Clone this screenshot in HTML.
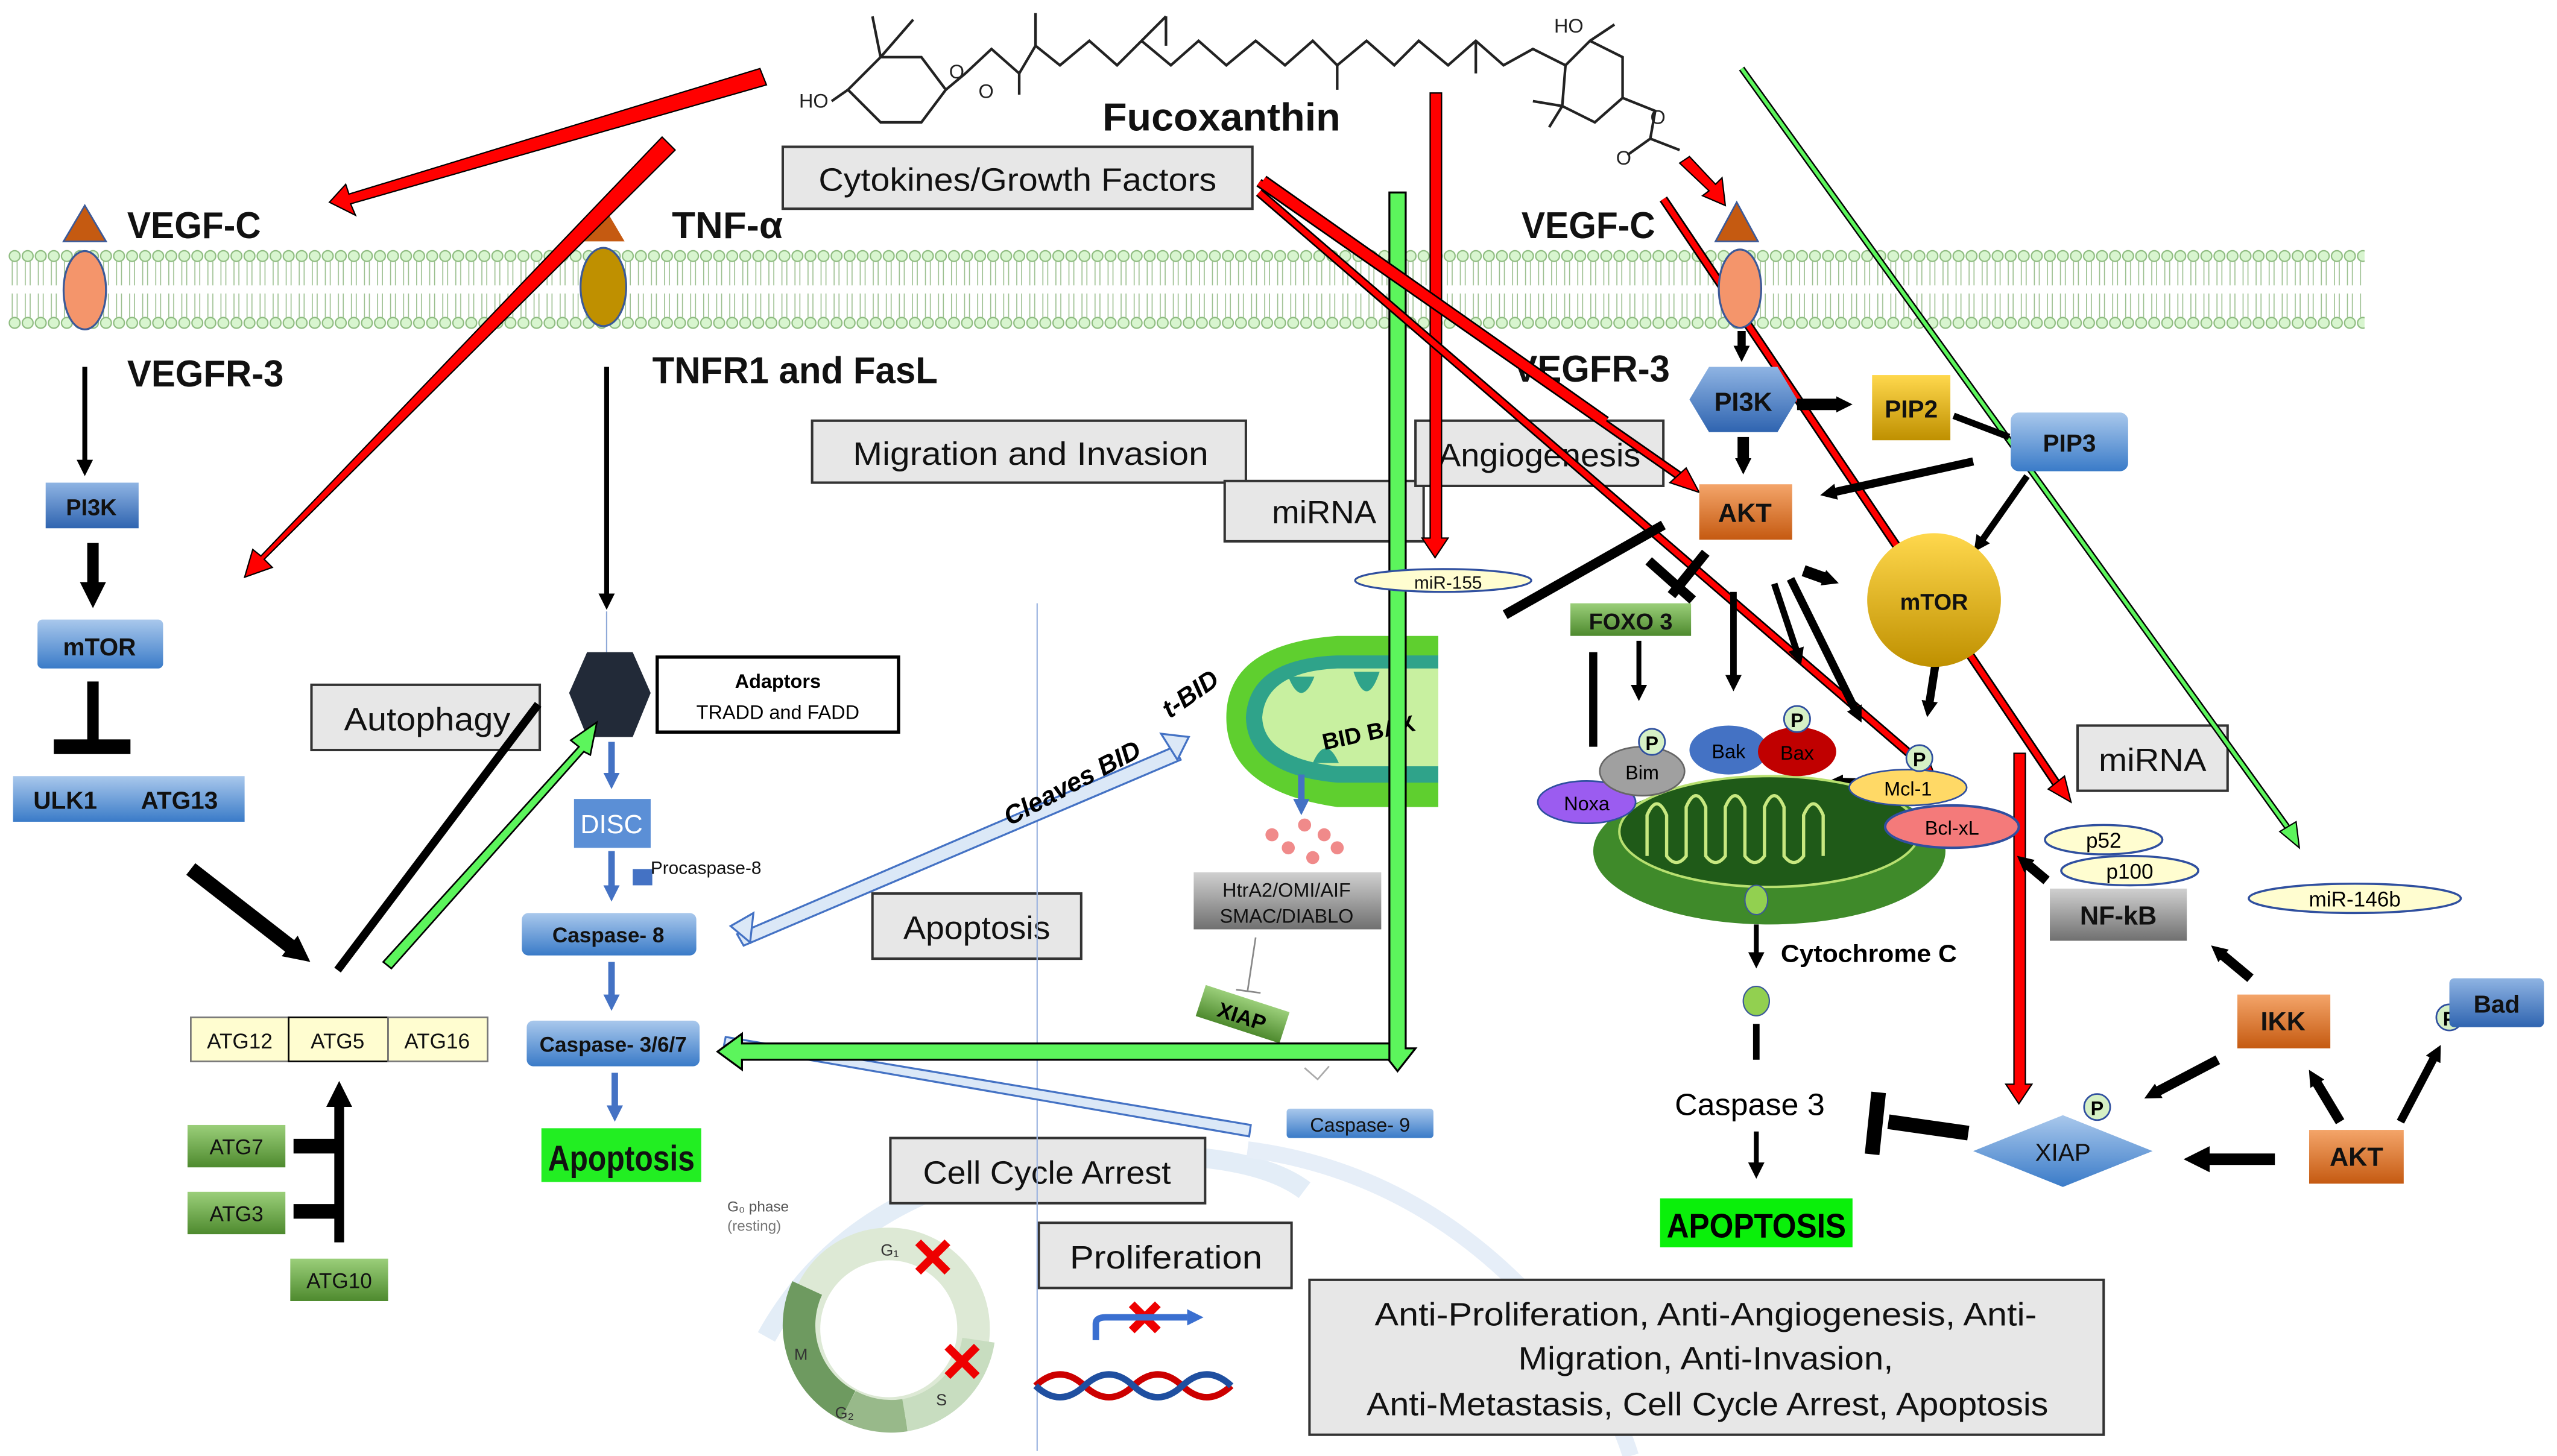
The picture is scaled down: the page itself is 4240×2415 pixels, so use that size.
<!DOCTYPE html>
<html><head><meta charset="utf-8"><style>
html,body{margin:0;padding:0;background:#fff}
svg{display:block}
text{font-family:"Liberation Sans Narrow","Liberation Sans",sans-serif}
</style></head><body>
<svg width="4240" height="2415" viewBox="0 0 1568 893" xmlns="http://www.w3.org/2000/svg">
<defs>
<pattern id="mem" x="5" y="153" width="8" height="50" patternUnits="userSpaceOnUse">
<circle cx="4" cy="4" r="3.3" fill="#d8f5cf" stroke="#8dbb7f" stroke-width="0.8"/>
<circle cx="4" cy="45" r="3.3" fill="#d8f5cf" stroke="#8dbb7f" stroke-width="0.8"/>
<path d="M2.5 7 V22 M5.5 7 V22 M2.5 27 V42 M5.5 27 V42" stroke="#9bbf8f" stroke-width="0.6"/>
</pattern>
<linearGradient id="gb" x1="0" y1="0" x2="0" y2="1"><stop offset="0" stop-color="#8fb4e3"/><stop offset="1" stop-color="#2f64b0"/></linearGradient>
<linearGradient id="gb2" x1="0" y1="0" x2="0" y2="1"><stop offset="0" stop-color="#a9c8ec"/><stop offset="1" stop-color="#3a7bc8"/></linearGradient>
<linearGradient id="gg" x1="0" y1="0" x2="0" y2="1"><stop offset="0" stop-color="#9bcf7a"/><stop offset="1" stop-color="#4e8a2e"/></linearGradient>
<linearGradient id="go" x1="0" y1="0" x2="0" y2="1"><stop offset="0" stop-color="#f4a56a"/><stop offset="1" stop-color="#c55a11"/></linearGradient>
<linearGradient id="gy" x1="0" y1="0" x2="0" y2="1"><stop offset="0" stop-color="#ffd84d"/><stop offset="1" stop-color="#bf9000"/></linearGradient>
<linearGradient id="ggr" x1="0" y1="0" x2="0" y2="1"><stop offset="0" stop-color="#d0d0d0"/><stop offset="1" stop-color="#707070"/></linearGradient>
<marker id="ab" markerWidth="10" markerHeight="10" refX="2" refY="5" orient="auto" markerUnits="userSpaceOnUse"><path d="M0,0 L10,5 L0,10 z" fill="#000"/></marker>
<marker id="abL" markerWidth="16" markerHeight="16" refX="3" refY="8" orient="auto" markerUnits="userSpaceOnUse"><path d="M0,0 L16,8 L0,16 z" fill="#000"/></marker>
<marker id="abl" markerWidth="10" markerHeight="10" refX="2" refY="5" orient="auto" markerUnits="userSpaceOnUse"><path d="M0,0 L10,5 L0,10 z" fill="#4472c4"/></marker>
</defs>

<!-- faint ER arcs -->
<path d="M470 820 Q520 730 640 712 Q760 700 800 730" fill="none" stroke="#e3edf7" stroke-width="12"/>
<path d="M765 705 Q880 720 960 820 Q990 860 1000 893" fill="none" stroke="#e6eef8" stroke-width="10"/>

<!-- membrane -->
<rect x="5" y="153" width="1445" height="50" fill="url(#mem)"/>

<!-- molecule -->
<g fill="none" stroke="#222" stroke-width="1.6">
<path d="M520 55 L540 35 L565 35 L580 55 L565 75 L540 75 L520 55"/>
<path d="M540 35 L535 10 M540 35 L560 12 M580 55 L592 45 L608 30 L625 45 L635 28 L650 40 L668 25 L685 40 L700 25 L715 10 M700 25 L718 40 L735 25 L752 40 L770 25 L788 40 L805 25 L820 40 L838 25 L855 40 L870 25 L888 40 L905 25 L922 40 L940 30 L960 40"/>
<path d="M635 28 L635 8 M715 10 L715 28 M820 40 L820 55 M905 25 L905 45 M625 45 L625 58"/>
<path d="M960 40 L975 25 L995 35 L995 60 L978 75 L958 65 L960 40 M975 25 L990 15 M958 65 L940 62 M958 65 L950 78 M995 60 L1015 68 L1012 85 L998 95 M1012 85 L1030 92"/>
<path d="M520 55 L510 62"/>
</g>
<text x="490" y="66" font-size="12" fill="#222">HO</text>
<text x="582" y="48" font-size="12" fill="#222">O</text>
<text x="600" y="60" font-size="12" fill="#222">O</text>
<text x="953" y="20" font-size="12" fill="#222">HO</text>
<text x="1012" y="76" font-size="12" fill="#222">O</text>
<text x="991" y="101" font-size="12" fill="#222">O</text>
<text x="676" y="80" font-size="24" font-weight="bold" fill="#111" textLength="146" lengthAdjust="spacingAndGlyphs">Fucoxanthin</text>

<!-- label boxes -->
<g stroke="#333" stroke-width="1.5" fill="#e7e7e7">
<rect x="480" y="90" width="288" height="38"/>
<rect x="498" y="258" width="266" height="38"/>
<rect x="751" y="295" width="122" height="37"/>
<rect x="868" y="258" width="152" height="40"/>
<rect x="191" y="420" width="140" height="40"/>
<rect x="535" y="548" width="128" height="40"/>
<rect x="546" y="698" width="193" height="40"/>
<rect x="637" y="750" width="155" height="40"/>
<rect x="1274" y="445" width="92" height="40"/>
<rect x="803" y="785" width="487" height="95"/>
</g>
<g font-size="20" fill="#111">
<text x="502" y="117" textLength="244" lengthAdjust="spacingAndGlyphs">Cytokines/Growth Factors</text>
<text x="523" y="285" textLength="218" lengthAdjust="spacingAndGlyphs">Migration and Invasion</text>
<text x="780" y="321" textLength="64" lengthAdjust="spacingAndGlyphs">miRNA</text>
<text x="882" y="286" textLength="124" lengthAdjust="spacingAndGlyphs">Angiogenesis</text>
<text x="211" y="448" textLength="102" lengthAdjust="spacingAndGlyphs">Autophagy</text>
<text x="554" y="576" textLength="90" lengthAdjust="spacingAndGlyphs">Apoptosis</text>
<text x="566" y="726" textLength="152" lengthAdjust="spacingAndGlyphs">Cell Cycle Arrest</text>
<text x="656" y="778" textLength="118" lengthAdjust="spacingAndGlyphs">Proliferation</text>
<text x="1287" y="473" textLength="66" lengthAdjust="spacingAndGlyphs">miRNA</text>
<text x="843" y="813" textLength="406" lengthAdjust="spacingAndGlyphs">Anti-Proliferation, Anti-Angiogenesis, Anti-</text>
<text x="931" y="840" textLength="230" lengthAdjust="spacingAndGlyphs">Migration, Anti-Invasion,</text>
<text x="838" y="868" textLength="418" lengthAdjust="spacingAndGlyphs">Anti-Metastasis, Cell Cycle Arrest, Apoptosis</text>
</g>

<!-- receptors left -->
<polygon points="52,126 39,148 65,148" fill="#c55a11" stroke="#3b5998" stroke-width="1"/>
<ellipse cx="52" cy="178" rx="13" ry="24" fill="#f4956b" stroke="#3b5998" stroke-width="1.2"/>
<polygon points="370,126 357,148 383,148" fill="#c55a11"/>
<ellipse cx="370" cy="176" rx="14" ry="24" fill="#bf9000" stroke="#3b5998" stroke-width="1.2"/>
<g font-size="23" font-weight="bold" fill="#111">
<text x="78" y="146" textLength="82" lengthAdjust="spacingAndGlyphs">VEGF-C</text>
<text x="412" y="146" textLength="68" lengthAdjust="spacingAndGlyphs">TNF-α</text>
<text x="78" y="237" textLength="96" lengthAdjust="spacingAndGlyphs">VEGFR-3</text>
<text x="400" y="235" textLength="175" lengthAdjust="spacingAndGlyphs">TNFR1 and FasL</text>
<text x="933" y="146" textLength="82" lengthAdjust="spacingAndGlyphs">VEGF-C</text>
<text x="928" y="234" textLength="96" lengthAdjust="spacingAndGlyphs">VEGFR-3</text>
</g>

<!-- autophagy pathway -->
<line x1="52" y1="225" x2="52" y2="284" stroke="#000" stroke-width="3" marker-end="url(#ab)"/>
<rect x="28" y="296" width="57" height="28" fill="url(#gb)"/>
<text x="56" y="316" font-size="14" text-anchor="middle" font-weight="bold" fill="#111">PI3K</text>
<line x1="57" y1="333" x2="57" y2="360" stroke="#000" stroke-width="7" marker-end="url(#abL)"/>
<rect x="23" y="380" width="77" height="30" rx="3" fill="url(#gb2)"/>
<text x="61" y="402" font-size="15" text-anchor="middle" font-weight="bold" fill="#111">mTOR</text>
<line x1="57" y1="418" x2="57" y2="456" stroke="#000" stroke-width="7"/>
<line x1="33" y1="458" x2="80" y2="458" stroke="#000" stroke-width="9"/>
<rect x="8" y="476" width="142" height="28" fill="url(#gb2)"/>
<text x="40" y="496" font-size="15" text-anchor="middle" font-weight="bold" fill="#111">ULK1</text>
<text x="110" y="496" font-size="15" text-anchor="middle" font-weight="bold" fill="#111">ATG13</text>
<line x1="117" y1="533" x2="180" y2="582" stroke="#000" stroke-width="9" marker-end="url(#abL)"/>
<line x1="207" y1="595" x2="330" y2="432" stroke="#000" stroke-width="5"/>
<g fill="#fffdd0" stroke="#777" stroke-width="1">
<rect x="117" y="624" width="60" height="27"/><rect x="177" y="624" width="61" height="27" stroke="#000"/><rect x="238" y="624" width="61" height="27"/>
</g>
<g font-size="13" text-anchor="middle" fill="#111"><text x="147" y="643">ATG12</text><text x="207" y="643">ATG5</text><text x="268" y="643">ATG16</text></g>
<line x1="208" y1="762" x2="208" y2="676" stroke="#000" stroke-width="6" marker-end="url(#abL)"/>
<path d="M180 703 H208 M180 743 H208" stroke="#000" stroke-width="9"/>
<rect x="115" y="690" width="60" height="26" fill="url(#gg)"/>
<rect x="115" y="731" width="60" height="26" fill="url(#gg)"/>
<rect x="178" y="772" width="60" height="26" fill="url(#gg)"/>
<g font-size="13" text-anchor="middle" fill="#111"><text x="145" y="708">ATG7</text><text x="145" y="749">ATG3</text><text x="208" y="790">ATG10</text></g>

<!-- extrinsic apoptosis -->
<line x1="372" y1="225" x2="372" y2="366" stroke="#000" stroke-width="3" marker-end="url(#ab)"/>
<line x1="372" y1="375" x2="372" y2="400" stroke="#8fa9d8" stroke-width="0.8"/>
<polygon points="360,400 388,400 399,425 388,452 360,452 349,425" fill="#222a38"/>
<rect x="403" y="403" width="148" height="46" fill="#fff" stroke="#000" stroke-width="2"/>
<text x="477" y="422" font-size="12" font-weight="bold" text-anchor="middle">Adaptors</text>
<text x="477" y="441" font-size="12" text-anchor="middle">TRADD and  FADD</text>
<g stroke="#4472c4" stroke-width="4" marker-end="url(#abl)">
<line x1="375" y1="455" x2="375" y2="476"/><line x1="375" y1="522" x2="375" y2="545"/><line x1="375" y1="590" x2="375" y2="612"/><line x1="377" y1="658" x2="377" y2="680"/>
</g>
<rect x="352" y="490" width="47" height="30" fill="#5b8fd6"/>
<text x="375" y="511" font-size="16" fill="#fff" text-anchor="middle">DISC</text>
<rect x="388" y="533" width="12" height="10" fill="#4472c4"/>
<text x="399" y="536" font-size="11" fill="#111">Procaspase-8</text>
<rect x="320" y="560" width="107" height="26" rx="4" fill="url(#gb2)"/>
<text x="373" y="578" font-size="13" text-anchor="middle" font-weight="bold" fill="#111">Caspase- 8</text>
<rect x="323" y="626" width="106" height="28" rx="4" fill="url(#gb2)"/>
<text x="376" y="645" font-size="13" text-anchor="middle" font-weight="bold" fill="#111">Caspase- 3/6/7</text>
<rect x="332" y="692" width="98" height="33" fill="#22ee22"/>
<text x="336" y="718" font-size="22" font-weight="bold" fill="#111" textLength="90" lengthAdjust="spacingAndGlyphs">Apoptosis</text>

<!-- thin vertical line -->
<line x1="636" y1="370" x2="636" y2="890" stroke="#9ab3df" stroke-width="0.8"/>

<!-- hollow arrows -->
<polygon points="452,573 720,458 724,466 456,580" fill="#dbe8f7" stroke="#4472c4" stroke-width="1.2"/>
<polygon points="712,450 729,452 722,466" fill="#dbe8f7" stroke="#4472c4" stroke-width="1.2"/>
<polygon points="448,568 462,560 460,578" fill="#dbe8f7" stroke="#4472c4" stroke-width="1.2"/>
<polygon points="445,636 767,690 766,697 444,641" fill="#dbe8f7" stroke="#4472c4" stroke-width="1.2"/>
<text x="660" y="485" font-size="16" font-weight="bold" transform="rotate(-28 660 485)" text-anchor="middle" font-style="italic">Cleaves BID</text>
<text x="733" y="430" font-size="16" font-weight="bold" transform="rotate(-35 733 430)" text-anchor="middle" font-style="italic">t-BID</text>

<!-- left mitochondrion -->
<path d="M752 440 Q752 395 820 390 L882 390 L882 495 L820 495 Q752 485 752 440 Z" fill="#5fcf2f"/>
<path d="M764 440 Q766 404 820 402 L882 402 L882 480 L820 480 Q765 475 764 440 Z" fill="#2fa38a"/>
<path d="M774 440 Q776 412 820 410 L882 410 L882 470 L820 470 Q775 465 774 440 Z" fill="#c8f0a0"/>
<g fill="#2fa38a"><path d="M790 415 q8 20 16 0 Z"/><path d="M830 412 q8 24 16 0 Z"/><path d="M805 468 q8 -18 16 0 Z"/></g>
<text x="812" y="460" font-size="14" font-weight="bold" transform="rotate(-12 812 460)">BID BAX</text>
<line x1="798" y1="475" x2="798" y2="492" stroke="#4472c4" stroke-width="4" marker-end="url(#abl)"/>
<g fill="#f08a8a"><circle cx="780" cy="512" r="4"/><circle cx="800" cy="506" r="4"/><circle cx="790" cy="520" r="4"/><circle cx="812" cy="512" r="4"/><circle cx="820" cy="520" r="4"/><circle cx="805" cy="526" r="4"/></g>
<rect x="732" y="535" width="115" height="35" fill="url(#ggr)"/>
<text x="789" y="550" font-size="12" text-anchor="middle" fill="#111">HtrA2/OMI/AIF</text>
<text x="789" y="566" font-size="12" text-anchor="middle" fill="#111">SMAC/DIABLO</text>
<line x1="770" y1="575" x2="765" y2="608" stroke="#888" stroke-width="1"/>
<line x1="758" y1="607" x2="773" y2="609" stroke="#888" stroke-width="1"/>
<g transform="rotate(18 762 622)"><rect x="735" y="612" width="54" height="20" fill="url(#gg)"/><text x="762" y="628" font-size="13" font-weight="bold" text-anchor="middle">XIAP</text></g>
<path d="M800 655 L808 662 L815 654" fill="none" stroke="#aaa" stroke-width="1"/>
<rect x="789" y="680" width="90" height="18" rx="2" fill="url(#gb2)"/>
<text x="834" y="694" font-size="12" text-anchor="middle" fill="#111">Caspase- 9</text>

<!-- big green arrow -->
<path d="M852 118 L862 118 L862 643 L868 643 L857 657 L846 643 L852 643 Z" fill="#5cf55c" stroke="#000" stroke-width="1.2"/>
<path d="M852 640 L852 650 L455 650 L455 656 L440 645 L455 634 L455 640 Z" fill="#5cf55c" stroke="#000" stroke-width="1.2"/>
<polygon points="235,590 355,458 350,454 366,443 362,463 358,461 240,594" fill="#5cf55c" stroke="#000" stroke-width="1"/>

<!-- red arrows -->
<g fill="#f00" stroke="#000" stroke-width="0.8">
<polygon points="466,42 470,52 215,125 218,132 202,124 212,113 214,119"/>
<polygon points="406,84 414,92 162,343 167,348 150,354 155,337 160,341"/>
<polygon points="877,57 884,57 884,330 888,330 880,342 872,330 877,330"/>
<polygon points="1235,462 1242,462 1242,665 1246,665 1238,677 1230,665 1235,665"/>
<polygon points="1030,100 1036,96 1052,113 1056,109 1058,126 1044,120 1048,117"/>
</g>
<g stroke="#000" stroke-width="5.5" fill="none"><line x1="772" y1="112" x2="1030" y2="292"/><line x1="772" y1="118" x2="1180" y2="470"/><line x1="1020" y1="122" x2="1262" y2="482"/><line x1="775" y1="110" x2="985" y2="258"/></g>
<g stroke="#f00" stroke-width="3.5" fill="none"><line x1="772" y1="112" x2="1030" y2="292"/><line x1="772" y1="118" x2="1180" y2="470"/><line x1="1020" y1="122" x2="1262" y2="482"/><line x1="775" y1="110" x2="985" y2="258"/></g>
<g fill="#f00" stroke="#000" stroke-width="0.8"><polygon points="1042,302 1024,296 1034,287"/><polygon points="1188,480 1172,472 1182,464"/><polygon points="1270,492 1256,484 1266,476"/></g>
<line x1="1068" y1="42" x2="1406" y2="512" stroke="#000" stroke-width="4"/>
<line x1="1068" y1="42" x2="1406" y2="512" stroke="#5cf55c" stroke-width="2.2"/>
<polygon points="1410,520 1398,510 1408,504" fill="#5cf55c" stroke="#000" stroke-width="0.8"/>

<!-- right receptor -->
<polygon points="1065,124 1052,148 1078,148" fill="#c55a11" stroke="#3b5998" stroke-width="1"/>
<ellipse cx="1067" cy="177" rx="13" ry="24" fill="#f4956b" stroke="#3b5998" stroke-width="1.2"/>

<!-- right pathway -->
<g stroke="#000" fill="none">
<line x1="1068" y1="203" x2="1068" y2="214" stroke-width="5" marker-end="url(#ab)"/>
<line x1="1102" y1="248" x2="1128" y2="248" stroke-width="7" marker-end="url(#ab)"/>
<line x1="1069" y1="268" x2="1069" y2="283" stroke-width="7" marker-end="url(#ab)"/>
<line x1="1198" y1="255" x2="1232" y2="268" stroke-width="4"/>
<line x1="1210" y1="283" x2="1124" y2="302" stroke-width="5" marker-end="url(#ab)"/>
<line x1="1243" y1="292" x2="1215" y2="332" stroke-width="4" marker-end="url(#ab)"/>
<line x1="1020" y1="322" x2="923" y2="377" stroke-width="6"/>
<line x1="1046" y1="339" x2="1025" y2="365" stroke-width="6"/>
<line x1="1011" y1="344" x2="1038" y2="368" stroke-width="6"/>
<line x1="1106" y1="350" x2="1120" y2="355" stroke-width="7" marker-end="url(#ab)"/>
<line x1="1063" y1="363" x2="1063" y2="416" stroke-width="4" marker-end="url(#ab)"/>
<line x1="1088" y1="358" x2="1102" y2="400" stroke-width="4" marker-end="url(#ab)"/>
<line x1="1098" y1="355" x2="1138" y2="436" stroke-width="5" marker-end="url(#ab)"/>
<line x1="1188" y1="400" x2="1183" y2="432" stroke-width="5" marker-end="url(#ab)"/>
<line x1="1005" y1="393" x2="1005" y2="422" stroke-width="3" marker-end="url(#ab)"/>
<line x1="977" y1="400" x2="977" y2="458" stroke-width="5"/>
<line x1="1158" y1="481" x2="1128" y2="480" stroke-width="6" marker-end="url(#ab)"/>
</g>
<polygon points="1048,225 1090,225 1102,245 1090,265 1048,265 1036,245" fill="url(#gb)"/>
<text x="1069" y="252" font-size="16" text-anchor="middle" font-weight="bold" fill="#111">PI3K</text>
<rect x="1148" y="230" width="48" height="40" fill="url(#gy)"/>
<text x="1172" y="256" font-size="15" text-anchor="middle" font-weight="bold" fill="#111">PIP2</text>
<rect x="1233" y="253" width="72" height="36" rx="5" fill="url(#gb2)"/>
<text x="1269" y="277" font-size="15" text-anchor="middle" font-weight="bold" fill="#111">PIP3</text>
<rect x="1042" y="297" width="57" height="34" fill="url(#go)"/>
<text x="1070" y="320" font-size="16" text-anchor="middle" font-weight="bold" fill="#111">AKT</text>
<circle cx="1186" cy="368" r="41" fill="url(#gy)"/>
<text x="1186" y="374" font-size="14" text-anchor="middle" font-weight="bold" fill="#111">mTOR</text>
<rect x="963" y="370" width="74" height="20" fill="url(#gg)"/>
<text x="1000" y="386" font-size="14" text-anchor="middle" font-weight="bold" fill="#111">FOXO 3</text>
<ellipse cx="885" cy="356" rx="54" ry="7" fill="#fffdd0" stroke="#2f4f9f" stroke-width="1.2"/>
<text x="888" y="361" font-size="11" text-anchor="middle" fill="#111">miR-155</text>

<!-- right mitochondrion -->
<ellipse cx="1085" cy="522" rx="108" ry="45" fill="#3f8a2a"/>
<ellipse cx="1085" cy="510" rx="92" ry="34" fill="#1f5a18" stroke="#b8e070" stroke-width="1.5"/>
<g fill="none" stroke="#c8e880" stroke-width="2">
<path d="M1010 525 v-25 q6 -14 12 0 v25 q6 8 12 0 v-30 q6 -14 12 0 v30 q6 8 12 0 v-30 q6 -14 12 0 v30 q6 8 12 0 v-30 q6 -14 12 0 v30 q6 8 12 0 v-25 q6 -14 12 0 v25"/>
</g>
<ellipse cx="1077" cy="552" rx="7" ry="9" fill="#92d050" stroke="#3b5998" stroke-width="0.8"/>
<ellipse cx="973" cy="492" rx="30" ry="13" fill="#9b5cf0" stroke="#2f4f9f"/>
<text x="973" y="497" font-size="12" text-anchor="middle">Noxa</text>
<ellipse cx="1007" cy="473" rx="26" ry="15" fill="#a0a0a0" stroke="#666"/>
<text x="1007" y="478" font-size="12" text-anchor="middle">Bim</text>
<ellipse cx="1060" cy="460" rx="24" ry="15" fill="#4472c4"/>
<text x="1060" y="465" font-size="12" text-anchor="middle">Bak</text>
<ellipse cx="1102" cy="461" rx="24" ry="15" fill="#c00000"/>
<text x="1102" y="466" font-size="12" text-anchor="middle">Bax</text>
<ellipse cx="1170" cy="483" rx="36" ry="11" fill="#ffd966" stroke="#2f4f9f"/>
<text x="1170" y="488" font-size="12" text-anchor="middle">Mcl-1</text>
<ellipse cx="1197" cy="507" rx="41" ry="13" fill="#f47a7a" stroke="#2f4f9f" stroke-width="1.5"/>
<text x="1197" y="512" font-size="12" text-anchor="middle">Bcl-xL</text>
<g fill="#d5f0c5" stroke="#2f4f9f" stroke-width="1"><circle cx="1013" cy="455" r="8"/><circle cx="1102" cy="441" r="8"/><circle cx="1177" cy="465" r="8"/><circle cx="1286" cy="679" r="8"/><circle cx="1502" cy="624" r="8"/></g>
<g font-size="12" font-weight="bold" text-anchor="middle"><text x="1013" y="460">P</text><text x="1102" y="446">P</text><text x="1177" y="470">P</text><text x="1286" y="684">P</text><text x="1502" y="629">P</text></g>

<line x1="1077" y1="567" x2="1077" y2="586" stroke="#000" stroke-width="3" marker-end="url(#ab)"/>
<text x="1092" y="590" font-size="15" font-weight="bold" textLength="108" lengthAdjust="spacingAndGlyphs">Cytochrome C</text>
<ellipse cx="1077" cy="614" rx="8" ry="9" fill="#92d050" stroke="#3b5998" stroke-width="0.8"/>
<line x1="1077" y1="628" x2="1077" y2="650" stroke="#000" stroke-width="4"/>
<text x="1027" y="684" font-size="19" textLength="92" lengthAdjust="spacingAndGlyphs">Caspase 3</text>
<line x1="1077" y1="694" x2="1077" y2="715" stroke="#000" stroke-width="3" marker-end="url(#ab)"/>
<rect x="1018" y="735" width="118" height="30" fill="#0af00a"/>
<text x="1022" y="759" font-size="21" font-weight="bold" textLength="110" lengthAdjust="spacingAndGlyphs">APOPTOSIS</text>

<ellipse cx="1290" cy="515" rx="36" ry="9" fill="#fffdd0" stroke="#2f4f9f" stroke-width="1.3"/>
<text x="1290" y="520" font-size="13" text-anchor="middle">p52</text>
<ellipse cx="1306" cy="534" rx="42" ry="9" fill="#fffdd0" stroke="#2f4f9f" stroke-width="1.3"/>
<text x="1306" y="539" font-size="13" text-anchor="middle">p100</text>
<rect x="1257" y="545" width="84" height="32" fill="url(#ggr)"/>
<text x="1299" y="567" font-size="16" text-anchor="middle" font-weight="bold" fill="#111">NF-kB</text>
<ellipse cx="1444" cy="551" rx="65" ry="9" fill="#fffdd0" stroke="#2f4f9f" stroke-width="1.3"/>
<text x="1444" y="556" font-size="13" text-anchor="middle">miR-146b</text>
<rect x="1372" y="610" width="57" height="33" fill="url(#go)"/>
<text x="1400" y="632" font-size="16" text-anchor="middle" font-weight="bold" fill="#111">IKK</text>
<rect x="1502" y="600" width="58" height="30" rx="3" fill="url(#gb)"/>
<text x="1531" y="621" font-size="15" text-anchor="middle" font-weight="bold" fill="#111">Bad</text>
<rect x="1416" y="693" width="58" height="33" fill="url(#go)"/>
<text x="1445" y="715" font-size="16" text-anchor="middle" font-weight="bold" fill="#111">AKT</text>
<polygon points="1210,706 1265,684 1320,706 1265,728" fill="url(#gb2)"/>
<text x="1265" y="712" font-size="15" text-anchor="middle" fill="#111">XIAP</text>
<g stroke="#000" fill="none">
<line x1="1255" y1="540" x2="1243" y2="530" stroke-width="6" marker-end="url(#ab)"/>
<line x1="1380" y1="600" x2="1362" y2="585" stroke-width="6" marker-end="url(#ab)"/>
<line x1="1360" y1="650" x2="1322" y2="670" stroke-width="6" marker-end="url(#ab)"/>
<line x1="1435" y1="688" x2="1420" y2="663" stroke-width="6" marker-end="url(#ab)"/>
<line x1="1472" y1="688" x2="1493" y2="648" stroke-width="5" marker-end="url(#ab)"/>
<line x1="1395" y1="711" x2="1352" y2="711" stroke-width="7" marker-end="url(#abL)"/>
<line x1="1207" y1="695" x2="1158" y2="688" stroke-width="9"/>
<line x1="1152" y1="670" x2="1148" y2="708" stroke-width="9"/>
</g>

<!-- cell cycle -->
<circle cx="545" cy="815" r="52" fill="none" stroke="#dde9d5" stroke-width="20"/>
<path d="M495 790 A55 55 0 0 0 520 862" fill="none" stroke="#6e9a60" stroke-width="20"/>
<path d="M520 862 A55 55 0 0 0 555 868" fill="none" stroke="#98b98a" stroke-width="20"/>
<path d="M555 868 A55 55 0 0 0 600 822" fill="none" stroke="#c8ddc0" stroke-width="20"/>
<text x="446" y="743" font-size="9" fill="#555">G₀ phase</text>
<text x="446" y="755" font-size="9" fill="#777">(resting)</text>
<text x="540" y="770" font-size="10" fill="#333">G₁</text>
<text x="487" y="834" font-size="10" fill="#333">M</text>
<text x="512" y="870" font-size="10" fill="#333">G₂</text>
<text x="574" y="862" font-size="10" fill="#333">S</text>
<g stroke="#e00" stroke-width="5"><path d="M563 762 L581 780 M581 762 L563 780"/><path d="M581 826 L599 844 M599 826 L581 844"/><path d="M694 800 L710 816 M710 800 L694 816"/></g>
<path d="M672 822 L672 812 Q672 808 678 808 L728 808" fill="none" stroke="#3a6fd0" stroke-width="4"/>
<polygon points="728,803 738,808 728,813" fill="#3a6fd0"/>
<path d="M635 850 q15 -14 30 0 t30 0 t30 0 t30 0" fill="none" stroke="#c00" stroke-width="4"/>
<path d="M635 850 q15 14 30 0 t30 0 t30 0 t30 0" fill="none" stroke="#1f4fa0" stroke-width="4"/>
</svg>
</body></html>
